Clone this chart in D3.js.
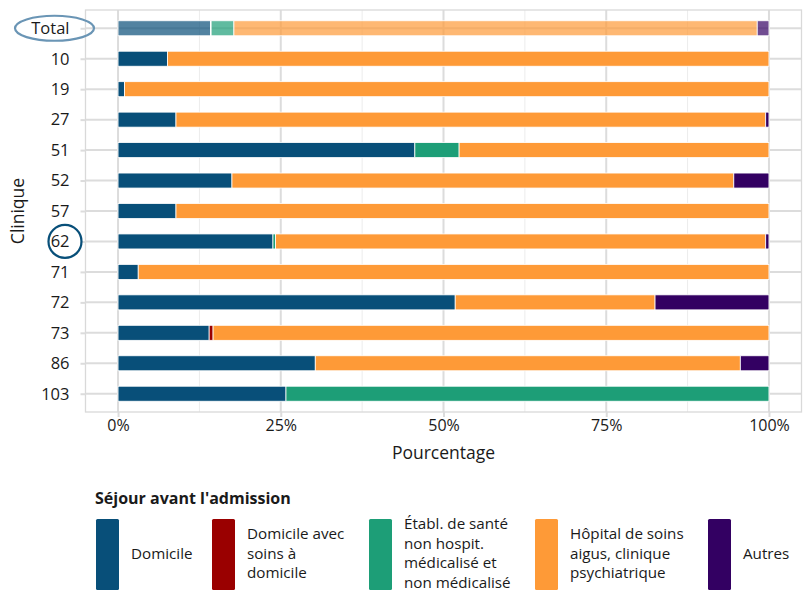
<!DOCTYPE html>
<html><head><meta charset="utf-8">
<script src="https://cdn.jsdelivr.net/npm/d3@7"></script>
<style>
body{margin:0;background:#fff;}
text{font-family:"Open Sans","Noto Sans",sans-serif;fill:#1a1a1a;}
</style></head>
<body><svg id="c" width="803" height="592"></svg>
<script>
const categories = ["Total","10","19","27","51","52","57","62","71","72","73","86","103"];
const seriesNames = ["Domicile","Domicile avec soins à domicile","Établ. de santé non hospit. médicalisé et non médicalisé","Hôpital de soins aigus, clinique psychiatrique","Autres"];
const domicile   = [14.2, 7.6, 1.0, 8.9, 45.6, 17.5, 8.9, 23.8, 3.1, 51.8, 14.0, 30.3, 25.8];
const domSoins   = [0.1, 0, 0, 0, 0, 0, 0, 0, 0, 0, 0.6, 0, 0];
const etabl      = [3.5, 0, 0, 0, 6.8, 0, 0, 0.4, 0, 0, 0, 0, 74.2];
const hopital    = [80.4, 92.4, 99.0, 90.6, 47.6, 77.1, 91.1, 75.3, 96.9, 30.7, 85.4, 65.3, 0];
const autres     = [1.8, 0, 0, 0.5, 0, 5.4, 0, 0.5, 0, 17.5, 0, 4.4, 0];
const colors = ["#084f79","#9a0000","#1d9e77","#fe9a37","#330062"];
const legendLabels = [["Domicile"],["Domicile avec","soins à","domicile"],["Établ. de santé","non hospit.","médicalisé et","non médicalisé"],["Hôpital de soins","aigus, clinique","psychiatrique"],["Autres"]];
const xTicks = [0,25,50,75,100];

const svg = d3.select("#c");
const panel = {l:85.5, r:801.5, t:10, b:412};
const x = d3.scaleLinear().domain([-5,105]).range([panel.l, panel.r]);
const y = d3.scalePoint().domain(categories).range([panel.t, panel.b]).padding(0.6);
const bh = 15;
const FONT = "'Open Sans','Noto Sans',sans-serif";

// grid
const g = svg.append("g");
[12.5,37.5,62.5,87.5].forEach(v=>{
  g.append("line").attr("x1",x(v)).attr("x2",x(v)).attr("y1",panel.t).attr("y2",panel.b).attr("stroke","#ececec").attr("stroke-width",1);
});
xTicks.forEach(v=>{
  g.append("line").attr("x1",x(v)).attr("x2",x(v)).attr("y1",panel.t).attr("y2",panel.b).attr("stroke","#dcdcdc").attr("stroke-width",2);
});
categories.forEach(c=>{
  g.append("line").attr("x1",panel.l).attr("x2",panel.r).attr("y1",y(c)).attr("y2",y(c)).attr("stroke","#dcdcdc").attr("stroke-width",2);
});
g.append("rect").attr("x",panel.l).attr("y",panel.t).attr("width",panel.r-panel.l).attr("height",panel.b-panel.t)
  .attr("fill","none").attr("stroke","#d9d9d9").attr("stroke-width",1.3);

// bars
const series = [domicile, domSoins, etabl, hopital, autres];
const rows = categories.map((c,i)=>{const o={cat:c}; series.forEach((s,j)=>o[j]=s[i]); return o;});
const stacked = d3.stack().keys([0,1,2,3,4])(rows);
stacked.forEach((layer,j)=>{
  svg.append("g").selectAll("rect").data(layer.filter(d=>d[1]-d[0]>0)).join("rect")
    .attr("x",d=>x(d[0])).attr("width",d=>x(d[1])-x(d[0]))
    .attr("y",d=>y(d.data.cat)-bh/2).attr("height",bh)
    .attr("fill",colors[j]).attr("fill-opacity",d=>d.data.cat==="Total"?0.7:1)
    .attr("stroke","#fff").attr("stroke-width",0.8);
});

// axes
const xa = svg.append("g").attr("transform",`translate(0,${panel.b})`)
  .call(d3.axisBottom(x).tickValues(xTicks).tickFormat(d=>d+"%").tickSize(5).tickPadding(3));
xa.select(".domain").remove();
xa.selectAll("line").attr("stroke","#dcdcdc").attr("stroke-width",2);
xa.selectAll("text").attr("font-size",16).attr("fill","#1a1a1a").attr("font-family",FONT);
const ya = svg.append("g").attr("transform",`translate(${panel.l},0)`)
  .call(d3.axisLeft(y).tickSize(5).tickPadding(11));
ya.select(".domain").remove();
ya.selectAll("line").attr("stroke","#dcdcdc").attr("stroke-width",2);
ya.selectAll("text").attr("font-size",16.5).attr("fill","#1a1a1a").attr("font-family",FONT);

svg.append("text").attr("x",x(50)).attr("y",459).attr("text-anchor","middle").attr("font-size",17.5).text("Pourcentage");
svg.append("text").attr("transform",`translate(24,${(panel.t+panel.b)/2}) rotate(-90)`).attr("text-anchor","middle").attr("font-size",17.5).text("Clinique");

// annotations
svg.append("ellipse").attr("cx",54.5).attr("cy",y("Total")).attr("rx",39.5).attr("ry",12.5)
  .attr("fill","none").attr("stroke","#6a95b5").attr("stroke-width",2.2);
svg.append("circle").attr("cx",65).attr("cy",y("62")).attr("r",16.5)
  .attr("fill","none").attr("stroke","#084f79").attr("stroke-width",2.2);

// legend
svg.append("text").attr("x",95).attr("y",504).attr("font-size",16).attr("font-weight","bold").text("Séjour avant l'admission");
const keyX = [96,212,369,535,708];
legendLabels.forEach((lines,i)=>{
  svg.append("rect").attr("x",keyX[i]).attr("y",519).attr("width",23).attr("height",71).attr("rx",1.5)
    .attr("fill",colors[i]);
  const n = lines.length, lh = 19.5, cy = 553.5;
  lines.forEach((l,k)=>{
    svg.append("text").attr("x",keyX[i]+35).attr("y",cy + (k-(n-1)/2)*lh + 5)
      .attr("font-size",15.2).text(l);
  });
});
</script></body></html>
